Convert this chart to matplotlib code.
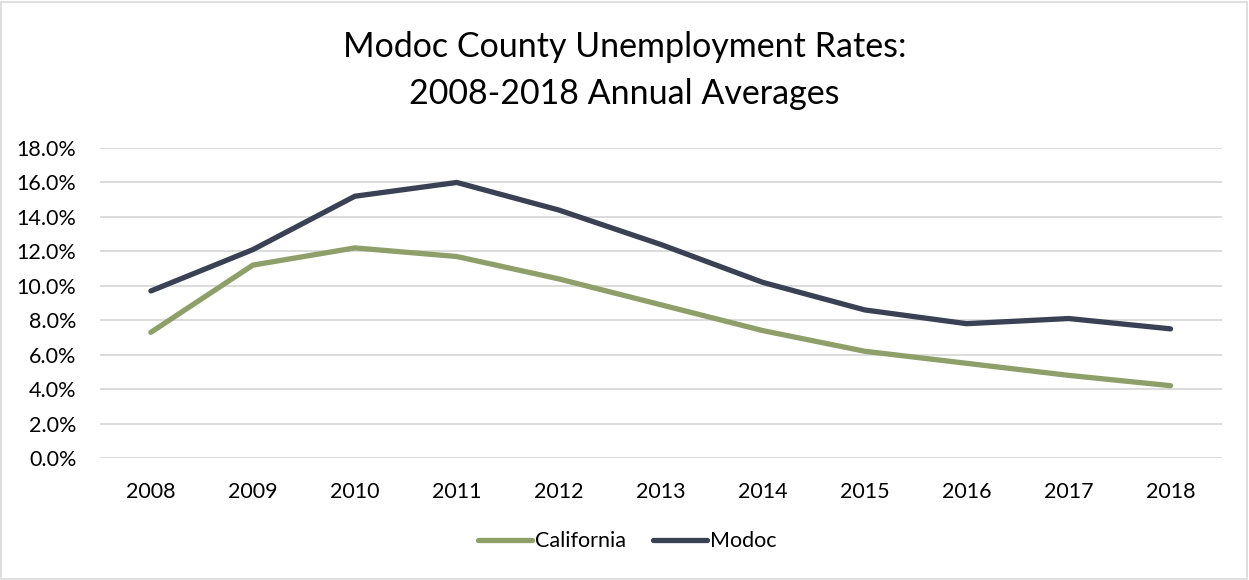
import matplotlib.pyplot as plt
from matplotlib.ticker import FuncFormatter
from matplotlib.lines import Line2D

years = ["2008", "2009", "2010", "2011", "2012", "2013",
         "2014", "2015", "2016", "2017", "2018"]
california = [7.3, 11.2, 12.2, 11.7, 10.4, 8.9, 7.4, 6.2, 5.5, 4.8, 4.2]
modoc = [9.7, 12.1, 15.2, 16.0, 14.4, 12.4, 10.2, 8.6, 7.8, 8.1, 7.5]

plt.rcParams['font.family'] = ['Lato', 'DejaVu Sans']

green = "#8e9f6a"
navy = "#3a4154"

fig = plt.figure(figsize=(12.49, 5.80), dpi=100)
ax = fig.add_axes([0.080, 0.2103, 0.898, 0.5345])

x = range(len(years))
ax.plot(x, california, color=green, lw=3.8, solid_capstyle="round",
        solid_joinstyle="round", label="California", zorder=3)
ax.plot(x, modoc, color=navy, lw=3.8, solid_capstyle="round",
        solid_joinstyle="round", label="Modoc", zorder=3)

ax.set_xlim(-0.5, len(years) - 0.5)
ax.set_ylim(0, 18)
ax.set_yticks(range(0, 19, 2))
ax.yaxis.set_major_formatter(FuncFormatter(lambda v, p: f"{v:.1f}%"))
ax.set_xticks(list(x))
ax.set_xticklabels(years)
ax.tick_params(length=0, labelsize=15.5, colors="#000000")
ax.tick_params(axis="x", pad=17)
ax.tick_params(axis="y", pad=17)
ax.grid(axis="y", color="#d9d9d9", lw=1.3)
ax.set_axisbelow(True)
for s in ax.spines.values():
    s.set_visible(False)

fig.suptitle("Modoc County Unemployment Rates:\n2008-2018 Annual Averages",
             y=0.947, fontsize=24.5, linespacing=1.6)

handles = [Line2D([], [], color=green, lw=3.8, solid_capstyle="round"),
           Line2D([], [], color=navy, lw=3.8, solid_capstyle="round")]
fig.legend(handles, ["California", "Modoc"], loc="center",
           bbox_to_anchor=(0.502, 0.067), ncol=2, frameon=False,
           fontsize=15.5, handlelength=2.5, handletextpad=0.15,
           columnspacing=1.25)

# light frame around the whole chart
fig.patches.append(plt.Rectangle((0.001, 0.002), 0.997, 0.995,
                                 transform=fig.transFigure, fill=False,
                                 edgecolor="#d9d9d9", lw=1.2))

fig.savefig("out.png", dpi=100)
